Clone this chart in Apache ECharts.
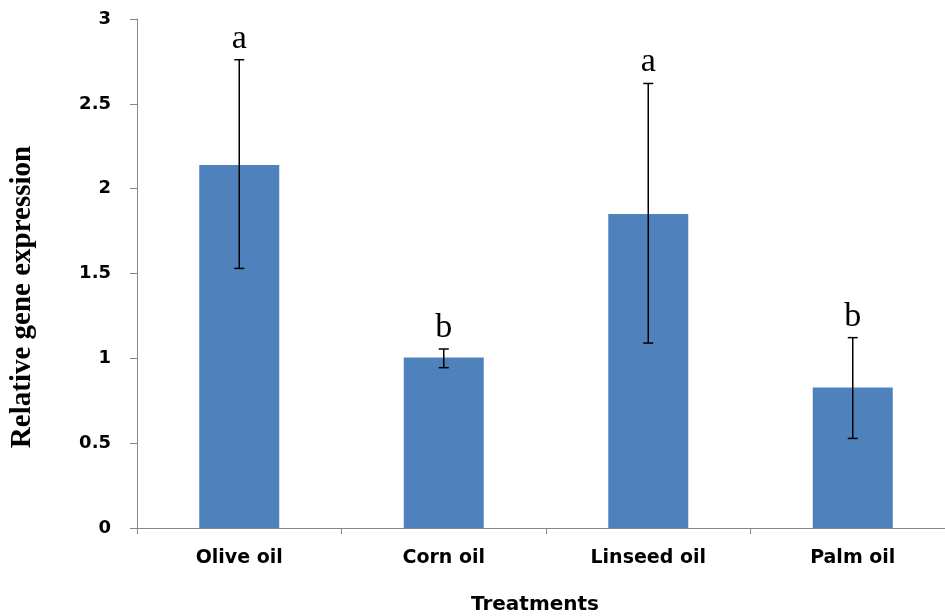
<!DOCTYPE html>
<html>
<head>
<meta charset="utf-8">
<script src="https://cdn.jsdelivr.net/npm/echarts@6/dist/echarts.min.js"></script>
<style>html,body{margin:0;padding:0;background:#fff;overflow:hidden}#c{width:970px;height:616px}</style>
</head>
<body>
<div id="c"></div>
<script>
const categories = ['Olive oil', 'Corn oil', 'Linseed oil', 'Palm oil'];
const means = [2.14, 1.005, 1.85, 0.828];
const errLow = [1.53, 0.945, 1.09, 0.528];
const errHigh = [2.76, 1.055, 2.62, 1.122];
const letters = ['a', 'b', 'a', 'b'];
const yTicks = [0, 0.5, 1, 1.5, 2, 2.5, 3];

const chart = echarts.init(document.getElementById('c'));
const errData = categories.map((c, i) => [i, errLow[i], errHigh[i]]);

chart.setOption({
  animation: false,
  backgroundColor: '#fff',
  grid: { left: 137, top: 19, bottom: 88, width: 818, containLabel: false },
  xAxis: {
    type: 'category',
    data: categories,
    boundaryGap: true,
    axisLine: { show: true, lineStyle: { color: '#868686', width: 1 } },
    axisTick: { show: true, length: 6, lineStyle: { color: '#868686' } },
    axisLabel: { color: '#000', fontFamily: 'DejaVu Sans', fontWeight: 'bold', fontSize: 19, margin: 21 }
  },
  yAxis: {
    type: 'value',
    min: 0, max: 3, interval: 0.5,
    axisLine: { show: true, lineStyle: { color: '#868686', width: 1 } },
    axisTick: { show: true, length: 7, lineStyle: { color: '#868686' } },
    splitLine: { show: false },
    axisLabel: { color: '#000', fontFamily: 'DejaVu Sans', fontWeight: 'bold', fontSize: 18, margin: 26,
      formatter: v => yTicks.includes(v) ? String(v) : '' }
  },
  graphic: [
    { type: 'text', x: 535, y: 605, style: { text: 'Treatments', fontFamily: 'DejaVu Sans', fontWeight: 'bold', fontSize: 20, fill: '#000', align: 'center', verticalAlign: 'middle' } },
    { type: 'text', x: 23, y: 297, rotation: Math.PI / 2, style: { text: 'Relative gene expression', fontFamily: 'Liberation Serif', fontWeight: 'bold', fontSize: 29, fill: '#000', align: 'center', verticalAlign: 'middle' } }
  ],
  series: [
    {
      type: 'bar',
      data: means,
      barWidth: 80,
      itemStyle: { color: '#4F81BD' }
    },
    {
      type: 'custom',
      clip: false,
      z: 5,
      data: errData,
      renderItem: function (params, api) {
        const idx = api.value(0);
        const lo = api.coord([idx, api.value(1)]);
        const hi = api.coord([idx, api.value(2)]);
        const h = 5;
        const ls = { stroke: '#000', lineWidth: 1.5 };
        return {
          type: 'group',
          children: [
            { type: 'line', shape: { x1: lo[0], y1: lo[1], x2: hi[0], y2: hi[1] }, style: ls },
            { type: 'line', shape: { x1: hi[0] - h, y1: hi[1], x2: hi[0] + h, y2: hi[1] }, style: ls },
            { type: 'line', shape: { x1: lo[0] - h, y1: lo[1], x2: lo[0] + h, y2: lo[1] }, style: ls },
            { type: 'text', x: hi[0], y: hi[1] - 4, style: { text: letters[params.dataIndex], fontFamily: 'Liberation Serif', fontSize: 34, fill: '#000', align: 'center', verticalAlign: 'bottom' } }
          ]
        };
      }
    }
  ]
});
</script>
</body>
</html>
